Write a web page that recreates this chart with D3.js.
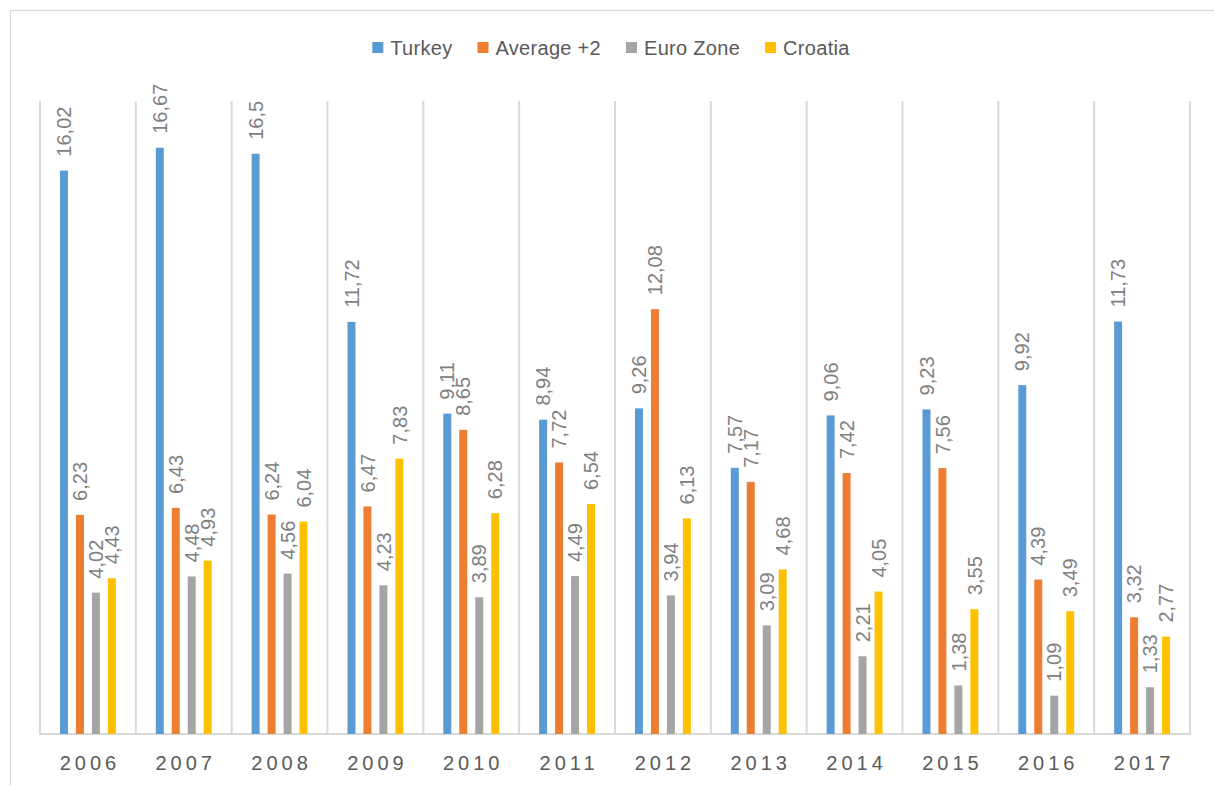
<!DOCTYPE html>
<html>
<head>
<meta charset="utf-8">
<script src="https://cdn.jsdelivr.net/npm/d3@7"></script>
<style>
  html, body { margin: 0; padding: 0; background: #fff; }
  svg { display: block; font-family: "Liberation Sans", Arial, sans-serif; }
</style>
</head>
<body>
<svg id="chart" width="1214" height="785"></svg>
<script>
const years = ["2006","2007","2008","2009","2010","2011","2012","2013","2014","2015","2016","2017"];
const seriesNames = ["Turkey", "Average +2", "Euro Zone", "Croatia"];
const turkey    = [16.02, 16.67, 16.5, 11.72, 9.11, 8.94, 9.26, 7.57, 9.06, 9.23, 9.92, 11.73];
const average2  = [6.23, 6.43, 6.24, 6.47, 8.65, 7.72, 12.08, 7.17, 7.42, 7.56, 4.39, 3.32];
const euroZone  = [4.02, 4.48, 4.56, 4.23, 3.89, 4.49, 3.94, 3.09, 2.21, 1.38, 1.09, 1.33];
const croatia   = [4.43, 4.93, 6.04, 7.83, 6.28, 6.54, 6.13, 4.68, 4.05, 3.55, 3.49, 2.77];
const colors    = ["#5B9BD5", "#ED7D31", "#A5A5A5", "#FFC000"];

const seriesValues = [turkey, average2, euroZone, croatia];

const svg = d3.select("#chart");
const plot = { left: 40, right: 1190, top: 101, bottom: 734 };

// chart border
svg.append("rect")
  .attr("x", 10.5).attr("y", 10.5)
  .attr("width", 1230).attr("height", 800)
  .attr("fill", "none").attr("stroke", "#D9D9D9").attr("stroke-width", 1.3);

const x0 = d3.scaleBand().domain(years).range([plot.left, plot.right]).padding(0);
const x1 = d3.scaleBand().domain(seriesNames).range([0, x0.bandwidth()])
  .paddingInner(0.5).paddingOuter(1.25);
const y = d3.scaleLinear().domain([0, 18]).range([plot.bottom, plot.top]);

// vertical gridlines at category boundaries
const bounds = years.map(d => x0(d)).concat([x0(years[years.length - 1]) + x0.bandwidth()]);
svg.append("g").selectAll("line").data(bounds).join("line")
  .attr("x1", d => d).attr("x2", d => d)
  .attr("y1", plot.top).attr("y2", plot.bottom)
  .attr("stroke", "#D9D9D9").attr("stroke-width", 2);

// baseline
svg.append("line")
  .attr("x1", plot.left - 1).attr("x2", plot.right + 1)
  .attr("y1", plot.bottom).attr("y2", plot.bottom)
  .attr("stroke", "#D9D9D9").attr("stroke-width", 2);

// data table
const rows = [];
years.forEach((yr, i) => {
  seriesNames.forEach((s, j) => {
    rows.push({ year: yr, series: s, value: seriesValues[j][i], color: colors[j] });
  });
});

// bars
svg.append("g").selectAll("rect").data(rows).join("rect")
  .attr("x", d => x0(d.year) + x1(d.series))
  .attr("y", d => y(d.value))
  .attr("width", x1.bandwidth())
  .attr("height", d => y(0) - y(d.value))
  .attr("fill", d => d.color);

// data labels
svg.append("g").selectAll("text").data(rows).join("text")
  .attr("transform", d => `translate(${x0(d.year) + x1(d.series) + x1.bandwidth() / 2},${y(d.value) - 14}) rotate(-90)`)
  .attr("dy", "0.36em")
  .attr("text-anchor", "start")
  .attr("font-size", 20)
  .attr("fill", "#808080")
  .text(d => String(d.value).replace(".", ","));

// x axis labels
const xAxis = d3.axisBottom(x0).tickSize(0).tickPadding(0);
const gx = svg.append("g").attr("transform", `translate(0,${plot.bottom})`).call(xAxis);
gx.select(".domain").remove();
gx.selectAll("text")
  .attr("y", 0).attr("dy", 0)
  .attr("transform", "translate(2,35.5)")
  .attr("font-size", 20)
  .attr("font-family", "'Liberation Sans', Arial, sans-serif")
  .attr("letter-spacing", "4px")
  .attr("fill", "#595959");

// legend
const legend = svg.append("g");
const items = legend.selectAll("g").data(seriesNames).join("g");
items.append("rect").attr("width", 11).attr("height", 11).attr("y", 42)
  .attr("fill", (d, i) => colors[i]);
items.append("text").attr("x", 18).attr("y", 54.5)
  .attr("font-size", 20).attr("letter-spacing", "0.3px").attr("fill", "#595959")
  .text(d => d);
const widths = [];
items.each(function () {
  const w = d3.select(this).select("text").node().getComputedTextLength();
  widths.push(18 + w);
});
const gap = 25;
const total = d3.sum(widths) + gap * (widths.length - 1);
let start = 611 - total / 2;
items.attr("transform", (d, i) => {
  const t = `translate(${start},0)`;
  start += widths[i] + gap;
  return t;
});
</script>
</body>
</html>
